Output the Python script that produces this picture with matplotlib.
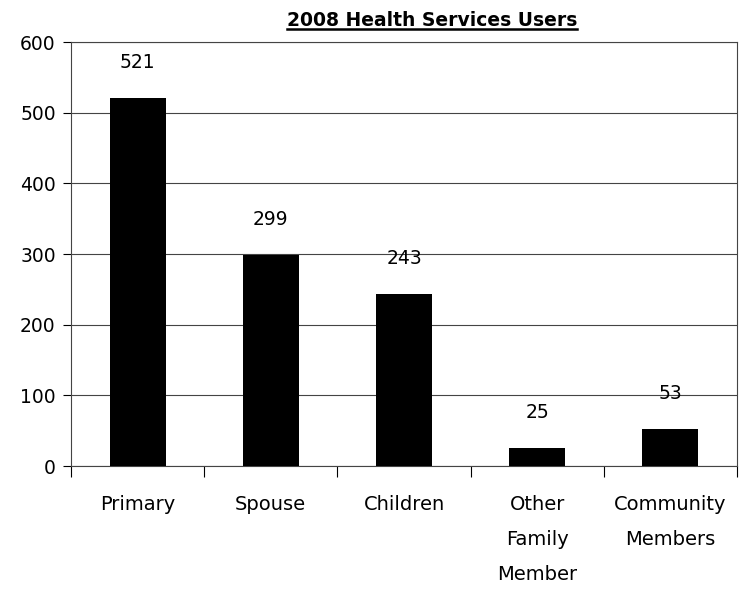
import matplotlib.pyplot as plt
import numpy as np
from matplotlib.lines import Line2D

categories = ["Primary", "Spouse", "Children", "Other\nFamily\nMember", "Community\nMembers"]
users = [521, 299, 243, 25, 53]
y_ticks = [0, 100, 200, 300, 400, 500, 600]

plt.rcParams['font.family'] = ['DejaVu Sans']

fig = plt.figure(figsize=(7.44, 5.91), dpi=100)
ax = fig.add_axes([71 / 744, 1 - 466 / 591, 666 / 744, 424 / 591])

x = np.arange(len(categories))
ax.bar(x, users, width=0.42, color="black", zorder=3)
for xi, v in zip(x, users):
    ax.text(xi, v + 50, str(v), ha="center", va="center", fontsize=13.5)

ax.set_xlim(-0.5, len(categories) - 0.5)
ax.set_ylim(0, 600)
ax.set_yticks(y_ticks)
ax.set_yticklabels([str(t) for t in y_ticks], fontsize=13.5)
ax.yaxis.grid(True, color="#444444", linewidth=0.8, zorder=0)

# ticks sit on category boundaries, labels centered under bars
ax.set_xticks(np.arange(-0.5, len(categories)), minor=False)
ax.set_xticklabels([])
ax.set_xticks(x, minor=True)
ax.set_xticklabels(categories, minor=True, fontsize=14, linespacing=2.05, va="top")
ax.tick_params(axis="x", which="minor", length=0, pad=21)
ax.tick_params(axis="x", which="major", length=8, direction="out", width=0.8)
ax.tick_params(axis="y", length=6, direction="out", width=0.8, pad=5)

for s in ax.spines.values():
    s.set_color("#444444")
    s.set_linewidth(0.8)

t = fig.text(432 / 744, 1 - 20 / 591, "2008 Health Services Users", ha="center",
             va="center", fontsize=13.5, fontweight="bold")
fig.canvas.draw()
bb = t.get_window_extent().transformed(fig.transFigure.inverted())
fig.add_artist(Line2D([bb.x0, bb.x1], [bb.y0 + 0.001, bb.y0 + 0.001], color="black",
                      linewidth=1.8, transform=fig.transFigure))

fig.savefig("out.png", dpi=100)
